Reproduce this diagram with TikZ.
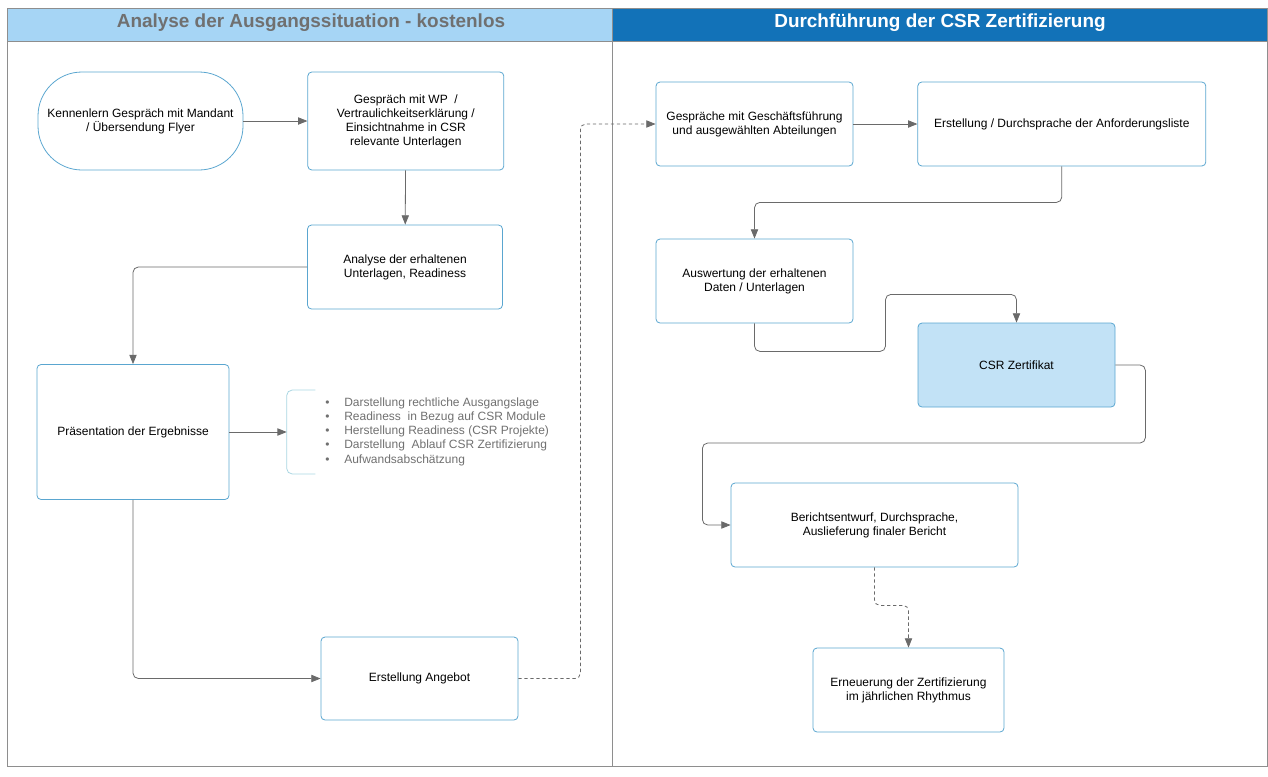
\documentclass[tikz,border=0pt]{standalone}
\usepackage{fontspec}
\setmainfont{Liberation Sans}
\usepackage{xcolor}
\usetikzlibrary{arrows.meta, positioning, calc}

\definecolor{kopfhell}{HTML}{A6D5F5}
\definecolor{kopfdunkel}{HTML}{1272B8}
\definecolor{rahmen}{HTML}{8E8E8E}
\definecolor{kante}{HTML}{5AA6D0}
\definecolor{klammerblau}{HTML}{A9D6E2}
\definecolor{pfeilgrau}{HTML}{6A6A6A}
\definecolor{zertblau}{HTML}{C2E2F6}
\definecolor{listengrau}{HTML}{707070}

\begin{document}
\begin{tikzpicture}[x=0.75pt, y=-0.75pt,
    box/.style={draw=kante, line width=0.6pt, rounded corners=3pt, align=center,
        minimum width=147.75pt, minimum height=63pt, inner sep=2pt,
        font=\fontsize{9}{10.5}\selectfont},
    pfeil/.style={draw=pfeilgrau, line width=0.6pt, rounded corners=4pt,
        -{Triangle[length=7pt, width=5.5pt]}},
    gestrichelt/.style={pfeil, dash pattern=on 2.5pt off 2pt}]
    \useasboundingbox (0,0) rectangle (1268,776);

    % Lanes
    \fill[kopfhell] (7,8) rectangle (612,41);
    \fill[kopfdunkel] (612,8) rectangle (1267,41);
    \draw[rahmen, line width=0.7pt] (7,8) rectangle (1267,766);
    \draw[rahmen, line width=0.7pt] (7,41) -- (1267,41);
    \draw[rahmen, line width=0.7pt] (612,8) -- (612,766);
    \node[font=\bfseries\fontsize{14.2}{16}\selectfont, text=listengrau] (titel1) at (311,23) {Analyse der Ausgangssituation - kostenlos};
    \node[font=\bfseries\fontsize{14.2}{16}\selectfont, text=white] (titel2) at (940,23) {Durchführung der CSR Zertifizierung};

    % Nodes
    \node[box, rounded corners=33pt, minimum width=153.75pt, minimum height=73.5pt] (kennenlern) at (140.5,121) {Kennenlern Gespräch mit Mandant\\/ Übersendung Flyer};
    \node[box, minimum width=147pt, minimum height=73.5pt, right=48pt of kennenlern] (wp) {Gespräch mit WP~~/\\Vertraulichkeitserklärung /\\Einsichtnahme in CSR\\relevante Unterlagen};
    \node[box, minimum width=146.25pt] (analyse) at (405,267) {Analyse der erhaltenen\\Unterlagen, Readiness};
    \node[box, minimum width=144pt, minimum height=101.25pt] (praes) at (133,432) {Präsentation der Ergebnisse};
    \node[minimum width=21pt, minimum height=62.5pt, inner sep=0pt] (klammer) at (301,432) {};
    \node[anchor=west, align=left, text=listengrau, inner sep=0pt,
        font=\fontsize{9}{10.7}\selectfont] (punkte) at (325,431.5)
        {\makebox[14.25pt][l]{\textbullet}Darstellung rechtliche Ausgangslage\\
         \makebox[14.25pt][l]{\textbullet}Readiness\ \ in Bezug auf CSR Module\\
         \makebox[14.25pt][l]{\textbullet}Herstellung Readiness (CSR Projekte)\\
         \makebox[14.25pt][l]{\textbullet}Darstellung\ \ Ablauf CSR Zertifizierung\\
         \makebox[14.25pt][l]{\textbullet}Aufwandsabschätzung};
    \node[box, minimum height=62.25pt] (angebot) at (419.5,678.5) {Erstellung Angebot};

    \node[box] (gespraeche) at (754.5,124) {Gespräche mit Geschäftsführung\\und ausgewählten Abteilungen};
    \node[box, minimum width=216pt, right=48pt of gespraeche] (liste) {Erstellung / Durchsprache der Anforderungsliste};
    \node[box] (auswertung) at (754.5,281) {Auswertung der erhaltenen\\Daten / Unterlagen};
    \node[box, fill=zertblau] (zertifikat) at (1016.5,365) {CSR Zertifikat};
    \node[box, minimum width=215.25pt] (bericht) at (874.5,525) {Berichtsentwurf, Durchsprache,\\Auslieferung finaler Bericht};
    \node[box, minimum width=143.25pt] (erneuerung) at (908.5,690) {Erneuerung der Zertifizierung\\im jährlichen Rhythmus};

    % Bracket
    \draw[klammerblau, line width=0.6pt, rounded corners=4pt]
        (klammer.north east) -- (klammer.north west) -- (klammer.south west) -- (klammer.south east);

    % Arrows
    \draw[pfeil] (kennenlern) -- (wp);
    \draw[pfeil] (wp) -- (analyse);
    \draw[pfeil] (analyse.west) -| (praes.north);
    \draw[pfeil] (praes.east) -- (klammer.west);
    \draw[pfeil] (praes.south) |- (angebot.west);
    \draw[gestrichelt] (angebot.east) -- ++(62,0) |- (gespraeche.west);
    \draw[pfeil] (gespraeche) -- (liste);
    \draw[pfeil] (liste.south) -- ++(0,36) -| (auswertung.north);
    \draw[pfeil] (auswertung.south) -- ++(0,28) -- ++(131,0) -- ++(0,-57) -| (zertifikat.north);
    \draw[pfeil] (zertifikat.east) -- ++(30,0) -- ++(0,78) -- ++(-443,0) |- (bericht.west);
    \draw[gestrichelt] (bericht.south) -- ++(0,38) -| (erneuerung.north);
\end{tikzpicture}
\end{document}
